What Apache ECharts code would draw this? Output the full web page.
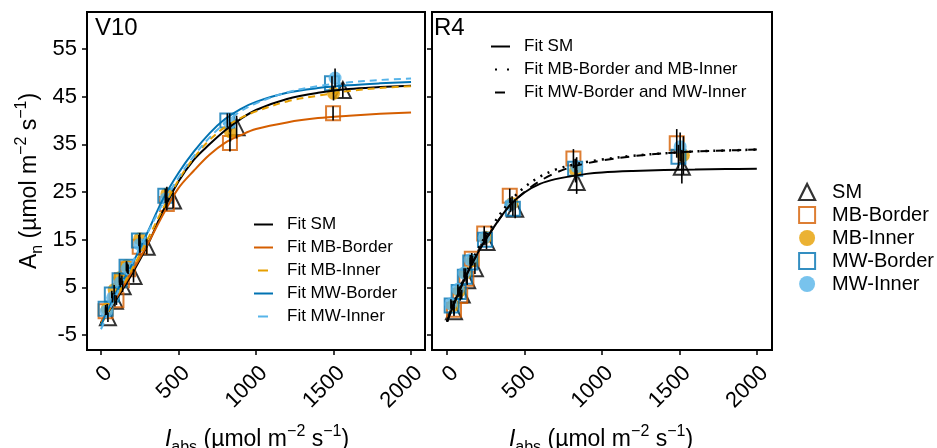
<!DOCTYPE html>
<html>
<head>
<meta charset="utf-8">
<script src="https://cdn.jsdelivr.net/npm/echarts@6/dist/echarts.min.js"></script>
<style>
  html, body { margin: 0; padding: 0; background: #fff; }
  #chart { width: 937px; height: 448px; }
</style>
</head>
<body>
<div id="chart"></div>
<script>
const FONT = 'Arial, "Liberation Sans", "DejaVu Sans", sans-serif';

// Tick values
const xTicks = [0, 500, 1000, 1500, 2000];
const yTicks = [-5, 5, 15, 25, 35, 45, 55];

// Light levels at which fitted curves are tabulated
const fitI = [0, 100, 200, 300, 400, 500, 600, 700, 800, 900, 1000, 1200, 1400, 1600, 1800, 2000];

// ---- V10: fitted light-response curves ----
const v10FitSM  = [-2.5, 2.5, 7.8, 13.8, 21.0, 27.2, 31.8, 35.0, 37.9, 40.3, 42.2, 44.5, 45.8, 46.6, 47.0, 47.3];
const v10FitMBB = [-2.3, 2.8, 8.3, 14.0, 20.2, 25.8, 29.5, 32.8, 35.3, 36.9, 38.2, 39.6, 40.5, 41.0, 41.4, 41.7];
const v10FitMBI = [-2.8, 3.0, 8.8, 15.0, 21.5, 27.5, 32.2, 35.9, 38.6, 40.5, 41.9, 44.0, 45.2, 46.2, 46.8, 47.2];
const v10FitMWB = [-3.0, 4.0, 9.8, 16.5, 23.5, 29.0, 33.5, 37.3, 40.3, 42.4, 43.9, 45.8, 46.8, 47.4, 47.8, 48.1];
const v10FitMWI = [-3.8, 3.4, 10.0, 16.4, 22.6, 28.0, 32.6, 36.4, 39.5, 41.9, 43.6, 45.9, 47.2, 48.0, 48.5, 48.8];

// ---- V10: measured means (I_abs, A_n, SE) ----
const v10SM_I  = [45, 90, 140, 210, 295, 465, 875, 1560];
const v10SM_A  = [-1.3, 2.2, 5.2, 7.4, 13.5, 23.2, 38.6, 46.4];
const v10SM_E  = [1.0, 1.2, 1.2, 1.4, 1.6, 1.6, 2.4, 1.6];
const v10MBB_I = [30, 100, 135, 175, 250, 425, 832, 1497];
const v10MBB_A = [0.0, 2.3, 6.5, 8.8, 13.5, 22.5, 35.3, 41.5];
const v10MBB_E = [0.8, 1.0, 1.0, 1.0, 1.2, 1.4, 1.8, 1.5];
const v10MBI_I = [40, 85, 120, 165, 250, 425, 835, 1500];
const v10MBI_A = [0.5, 4.5, 7.0, 9.5, 15.2, 24.6, 37.6, 45.7];
const v10MBI_E = [1.0, 1.0, 1.0, 1.0, 1.2, 1.5, 2.0, 1.5];
const v10MWB_I = [30, 70, 120, 165, 245, 415, 815, 1490];
const v10MWB_A = [0.5, 3.5, 6.5, 9.3, 14.8, 24.2, 40.0, 47.8];
const v10MWB_E = [0.8, 0.8, 1.0, 1.0, 1.2, 1.5, 1.5, 1.5];
const v10MWI_I = [35, 75, 125, 170, 250, 420, 830, 1510];
const v10MWI_A = [0.0, 2.8, 6.0, 9.0, 14.0, 23.6, 39.5, 48.9];
const v10MWI_E = [0.8, 1.0, 1.0, 1.0, 1.5, 1.5, 2.0, 2.0];

// ---- R4: fitted light-response curves ----
const r4FitSM = [-2.2, 5.8, 12.3, 17.5, 22.0, 24.9, 26.7, 27.7, 28.3, 28.8, 29.1, 29.4, 29.6, 29.7, 29.8, 29.9];
const r4FitMB = [-2.2, 6.2, 13.0, 18.3, 22.8, 26.0, 28.2, 29.7, 30.6, 31.3, 31.8, 32.6, 33.1, 33.5, 33.7, 33.9];
const r4FitMW = [-2.2, 5.8, 12.3, 17.5, 22.0, 25.0, 27.3, 29.0, 30.2, 31.0, 31.6, 32.5, 33.1, 33.5, 33.7, 33.9];

// ---- R4: measured means (I_abs, A_n, SE) ----
const r4SM_I  = [45, 95, 130, 180, 255, 440, 837, 1516];
const r4SM_A  = [0.0, 3.5, 6.5, 9.0, 14.5, 21.5, 27.1, 30.3];
const r4SM_E  = [1.0, 1.0, 1.0, 1.2, 1.5, 2.0, 2.5, 3.5];
const r4MBB_I = [45, 85, 125, 160, 240, 405, 816, 1483];
const r4MBB_A = [0.3, 3.2, 6.8, 11.0, 16.3, 24.2, 32.0, 35.2];
const r4MBB_E = [1.0, 1.0, 1.0, 1.2, 1.5, 1.5, 2.0, 3.0];
const r4MBI_I = [40, 80, 120, 165, 250, 420, 830, 1526];
const r4MBI_A = [1.2, 4.2, 8.0, 10.6, 15.5, 22.6, 29.5, 32.7];
const r4MBI_E = [1.0, 1.0, 1.0, 1.0, 1.2, 1.5, 2.5, 4.0];
const r4MWB_I = [30, 75, 115, 150, 245, 425, 827, 1494];
const r4MWB_A = [1.2, 4.0, 7.2, 10.2, 15.0, 21.5, 29.9, 32.4];
const r4MWB_E = [1.0, 1.0, 1.0, 1.0, 1.2, 1.5, 2.0, 2.5];
const r4MWI_I = [25, 70, 110, 150, 240, 410, 837, 1505];
const r4MWI_A = [1.5, 4.6, 8.0, 10.8, 15.4, 22.3, 30.3, 34.5];
const r4MWI_E = [1.0, 1.0, 1.0, 1.0, 1.2, 1.5, 2.0, 3.0];

// Plot styling
const COL = { 'SM': '#000000', 'MB-Border': '#D55E00', 'MB-Inner': '#E69F00', 'MW-Border': '#0072B2', 'MW-Inner': '#56B4E9' };
const CLEAR = 'rgba(0,0,0,0)';
const markStyle = {
  'SM':        { symbol: 'triangle', symbolSize: 16, itemStyle: { color: CLEAR, borderColor: COL['SM'], borderWidth: 2 } },
  'MB-Border': { symbol: 'rect', symbolSize: 14, itemStyle: { color: CLEAR, borderColor: COL['MB-Border'], borderWidth: 2 } },
  'MB-Inner':  { symbol: 'circle', symbolSize: 13, itemStyle: { color: COL['MB-Inner'] } },
  'MW-Border': { symbol: 'rect', symbolSize: 14, itemStyle: { color: CLEAR, borderColor: COL['MW-Border'], borderWidth: 2 } },
  'MW-Inner':  { symbol: 'circle', symbolSize: 13, itemStyle: { color: COL['MW-Inner'] } }
};

const zip = (xs, ys) => xs.map((x, i) => [x, ys[i]]);
const zip3 = (xs, ys, es) => xs.map((x, i) => [x, ys[i], es[i]]);

function scatter(name, panel, xs, ys) {
  const s = markStyle[name];
  return {
    type: 'scatter', name, xAxisIndex: panel, yAxisIndex: panel, z: 2,
    symbol: s.symbol, symbolSize: s.symbolSize, itemStyle: s.itemStyle,
    data: zip(xs, ys), silent: true
  };
}

function fitLine(name, panel, ys, color, type, width) {
  return {
    type: 'line', name, xAxisIndex: panel, yAxisIndex: panel, z: 3,
    data: zip(fitI, ys), symbol: 'none', smooth: 0.35, silent: true,
    lineStyle: { color, width: width || 2, type: type || 'solid' },
    itemStyle: { color }
  };
}

function errorBars(panel, rows) {
  return {
    type: 'custom', xAxisIndex: panel, yAxisIndex: panel, z: 4, silent: true,
    data: rows, encode: { x: 0, y: 1 },
    renderItem(params, api) {
      const x = api.value(0), y = api.value(1), e = api.value(2);
      const lo = api.coord([x, y - e]);
      const hi = api.coord([x, y + e]);
      return { type: 'line', shape: { x1: lo[0], y1: lo[1], x2: hi[0], y2: hi[1] },
               style: { stroke: '#000', lineWidth: 1.6 } };
    }
  };
}

const v10Err = [].concat(
  zip3(v10SM_I, v10SM_A, v10SM_E), zip3(v10MBB_I, v10MBB_A, v10MBB_E),
  zip3(v10MBI_I, v10MBI_A, v10MBI_E), zip3(v10MWB_I, v10MWB_A, v10MWB_E),
  zip3(v10MWI_I, v10MWI_A, v10MWI_E));
const r4Err = [].concat(
  zip3(r4SM_I, r4SM_A, r4SM_E), zip3(r4MBB_I, r4MBB_A, r4MBB_E),
  zip3(r4MBI_I, r4MBI_A, r4MBI_E), zip3(r4MWB_I, r4MWB_A, r4MWB_E),
  zip3(r4MWI_I, r4MWI_A, r4MWI_E));

const tickLabel = { fontFamily: FONT, fontSize: 22, color: '#000', formatter: v => String(v) };

function xAxis(gridIndex, min, max) {
  return {
    type: 'value', gridIndex, min, max,
    axisLine: { show: false, onZero: false }, splitLine: { show: false },
    axisTick: { show: true, inside: false, length: 5, customValues: xTicks, lineStyle: { color: '#000', width: 1.5 } },
    axisLabel: Object.assign({ customValues: xTicks, rotate: 45, margin: 12, align: 'right', verticalAlign: 'top' }, tickLabel)
  };
}
function yAxis(gridIndex, showLabels) {
  return {
    type: 'value', gridIndex, min: -8.15, max: 62.76,
    axisLine: { show: false, onZero: false }, splitLine: { show: false },
    axisTick: { show: true, inside: false, length: 5, customValues: yTicks, lineStyle: { color: '#000', width: 1.5 } },
    axisLabel: Object.assign({ show: showLabels, customValues: yTicks, margin: 10 }, tickLabel)
  };
}

const titleRich = {
  n:   { fontFamily: FONT, fontSize: 23, lineHeight: 32, color: '#000', verticalAlign: 'middle' },
  i:   { fontFamily: FONT, fontSize: 23, lineHeight: 32, color: '#000', fontStyle: 'italic', verticalAlign: 'middle' },
  sub: { fontFamily: FONT, fontSize: 16, lineHeight: 16, color: '#000', verticalAlign: 'bottom' },
  sup: { fontFamily: FONT, fontSize: 16, lineHeight: 16, color: '#000', verticalAlign: 'top' }
};
const xTitle = '{i|I}{sub|abs}{n| (\u00b5mol m}{sup|\u22122}{n| s}{sup|\u22121}{n|)}';
const yTitle = '{n|A}{sub|n}{n| (\u00b5mol m}{sup|\u22122}{n| s}{sup|\u22121}{n|)}';

const legendText = (size, pad) => ({ fontFamily: FONT, fontSize: size, color: '#000', padding: [0, 0, 0, pad] });
// Fit legends show only the line sample, no point marker
const lineOnlyIcon = { color: CLEAR, borderWidth: 0 };
const oneDash = { type: [10, 20], dashOffset: -4 };

const option = {
  backgroundColor: '#fff',
  animation: false,
  grid: [
    { left: 87, top: 12, width: 338, height: 338, show: true, borderColor: '#000', borderWidth: 2, backgroundColor: CLEAR },
    { left: 432, top: 12, width: 340, height: 338, show: true, borderColor: '#000', borderWidth: 2, backgroundColor: CLEAR }
  ],
  xAxis: [xAxis(0, -90, 2090), xAxis(1, -97, 2098)],
  yAxis: [yAxis(0, true), yAxis(1, false)],
  legend: [
    {
      data: ['Fit SM', 'Fit MB-Border',
             { name: 'Fit MB-Inner', lineStyle: oneDash },
             'Fit MW-Border',
             { name: 'Fit MW-Inner', lineStyle: oneDash }],
      orient: 'vertical', left: 253, top: 216, padding: 0, itemWidth: 19, itemHeight: 10, itemGap: 6,
      selectedMode: false, itemStyle: lineOnlyIcon, textStyle: legendText(17, 9)
    },
    {
      data: ['Fit SM',
             { name: 'Fit MB-Border and MB-Inner', lineStyle: { type: [2, 10] } },
             { name: 'Fit MW-Border and MW-Inner', lineStyle: { type: [10, 20] } }],
      orient: 'vertical', left: 490, top: 38, padding: 0, itemWidth: 19, itemHeight: 10, itemGap: 6,
      selectedMode: false, itemStyle: lineOnlyIcon, textStyle: legendText(17, 9)
    },
    {
      data: [{ name: 'SM', itemStyle: { color: CLEAR, borderColor: '#000', borderWidth: 2.2 } },
             'MB-Border', 'MB-Inner', 'MW-Border', 'MW-Inner'],
      orient: 'vertical', left: 798, top: 182, padding: 0, itemWidth: 16, itemHeight: 16, itemGap: 3,
      selectedMode: false, itemStyle: { borderWidth: 2 }, textStyle: legendText(20, 12)
    }
  ],
  graphic: [
    { type: 'text', left: 95, top: 16, style: { text: 'V10', fontFamily: FONT, fontSize: 24, fill: '#000' } },
    { type: 'text', left: 434, top: 16, style: { text: 'R4', fontFamily: FONT, fontSize: 24, fill: '#000' } },
    { type: 'text', x: 30, y: 181, rotation: Math.PI / 2,
      style: { text: yTitle, rich: titleRich, align: 'center', verticalAlign: 'middle' } },
    { type: 'text', x: 257, y: 440,
      style: { text: xTitle, rich: titleRich, align: 'center', verticalAlign: 'middle' } },
    { type: 'text', x: 601, y: 440,
      style: { text: xTitle, rich: titleRich, align: 'center', verticalAlign: 'middle' } }
  ],
  series: [
    // V10 panel
    scatter('SM', 0, v10SM_I, v10SM_A),
    scatter('MB-Border', 0, v10MBB_I, v10MBB_A),
    scatter('MB-Inner', 0, v10MBI_I, v10MBI_A),
    scatter('MW-Border', 0, v10MWB_I, v10MWB_A),
    scatter('MW-Inner', 0, v10MWI_I, v10MWI_A),
    fitLine('Fit SM', 0, v10FitSM, COL['SM']),
    fitLine('Fit MB-Border', 0, v10FitMBB, COL['MB-Border']),
    fitLine('Fit MB-Inner', 0, v10FitMBI, COL['MB-Inner'], [7, 5]),
    fitLine('Fit MW-Border', 0, v10FitMWB, COL['MW-Border']),
    fitLine('Fit MW-Inner', 0, v10FitMWI, COL['MW-Inner'], [7, 5]),
    errorBars(0, v10Err),
    // R4 panel
    scatter('SM', 1, r4SM_I, r4SM_A),
    scatter('MB-Border', 1, r4MBB_I, r4MBB_A),
    scatter('MB-Inner', 1, r4MBI_I, r4MBI_A),
    scatter('MW-Border', 1, r4MWB_I, r4MWB_A),
    scatter('MW-Inner', 1, r4MWI_I, r4MWI_A),
    fitLine('Fit SM', 1, r4FitSM, '#000'),
    fitLine('Fit MB-Border and MB-Inner', 1, r4FitMB, '#000', [2, 6], 2.5),
    fitLine('Fit MW-Border and MW-Inner', 1, r4FitMW, '#000', [9, 7]),
    errorBars(1, r4Err)
  ]
};

const chart = echarts.init(document.getElementById('chart'), null, { renderer: 'canvas' });
chart.setOption(option);
</script>
</body>
</html>
